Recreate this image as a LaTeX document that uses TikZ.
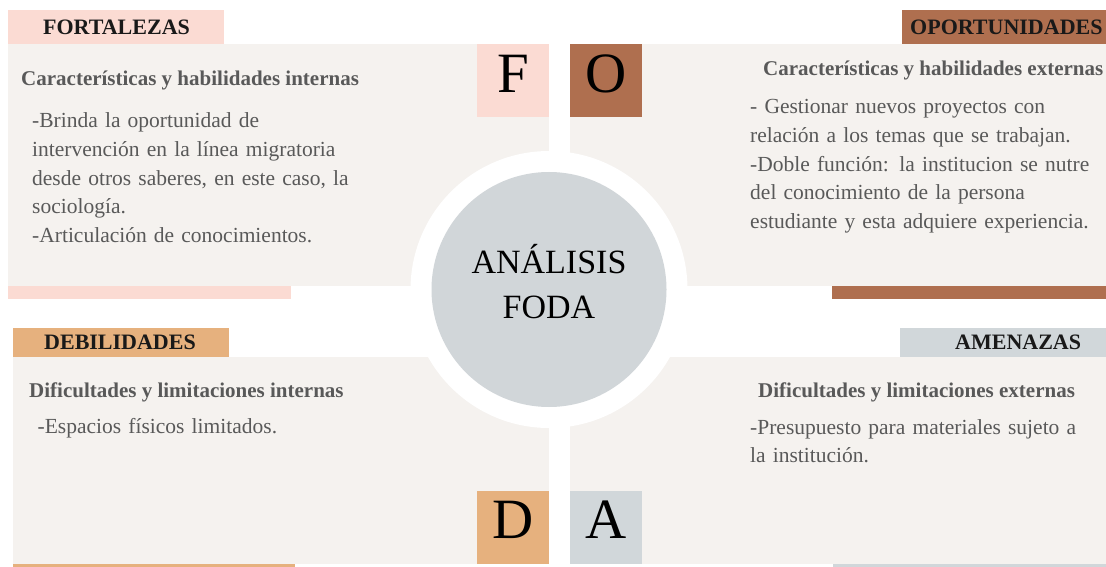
\documentclass[tikz,border=0pt]{standalone}
\usepackage{fontspec}
\setmainfont{Liberation Serif}
\usepackage{tikz}

\definecolor{fortpink}{HTML}{FBDBD3}
\definecolor{oporbrown}{HTML}{AF6F4F}
\definecolor{debiorange}{HTML}{E6B17E}
\definecolor{amengrey}{HTML}{D1D7DA}
\definecolor{panelbg}{HTML}{F5F2EF}
\definecolor{coregrey}{HTML}{D1D6D9}
\definecolor{bodygrey}{HTML}{595959}

\tikzset{
    tabtext/.style={font=\fontsize{22}{26}\selectfont\bfseries, text=black!90, inner sep=0},
    headtext/.style={font=\fontsize{21}{26}\selectfont\bfseries, text=bodygrey, inner sep=0, anchor=base west},
    bodytext/.style={font=\fontsize{21.5}{28.6}\selectfont, text=bodygrey, inner sep=0, anchor=base west, align=left, text width=#1},
    bodytext/.default=360pt,
    bigletter/.style={font=\fontsize{57}{60}\selectfont, text=black, inner sep=0, anchor=base}
}

\begin{document}
\begin{tikzpicture}[x=1pt, y=-1pt]
    \useasboundingbox (0,0) rectangle (1106,567);
    \begin{scope}
    \clip (0,0) rectangle (1106,567);

    % panels
    \foreach \xa/\ya/\xb/\yb in {
        8/44/549/286,
        570/44/1106/286,
        12.5/357/549/564,
        570/357/1106/564}
    {
        \fill[panelbg] (\xa,\ya) rectangle (\xb,\yb);
    }

    % title tabs
    \foreach \co/\xa/\ya/\xb/\yb in {
        fortpink/8/10/224/44,
        oporbrown/902/10/1120/44,
        debiorange/12.5/328/229/357,
        amengrey/900/328/1120/357}
    {
        \fill[\co] (\xa,\ya) rectangle (\xb,\yb);
    }

    % letter squares
    \foreach \co/\xa/\ya in {
        fortpink/477/44,
        oporbrown/570/44,
        debiorange/477/491,
        amengrey/570/491}
    {
        \fill[\co] (\xa,\ya) rectangle (\xa+72,\ya+73);
    }

    % bottom bars
    \foreach \co/\xa/\ya/\xb/\yb in {
        fortpink/8/286/291/299,
        oporbrown/832/286/1106/299,
        debiorange/12.5/564/295/570,
        amengrey/833/564/1106/570}
    {
        \fill[\co] (\xa,\ya) rectangle (\xb,\yb);
    }

    % centre
    \coordinate (core) at (549,289.5);
    \fill[white] (core) circle (138.5pt);
    \fill[coregrey] (core) circle (117.5pt);

    % tab labels
    \node[tabtext, anchor=base] (fortalezas) at (116.5,35) {FORTALEZAS};
    \node[tabtext, anchor=base west] (oportunidades) at (910,35) {OPORTUNIDADES};
    \node[tabtext, anchor=base] (debilidades) at (120,349) {DEBILIDADES};
    \node[tabtext, anchor=base west] (amenazas) at (955,349) {AMENAZAS};
    \end{scope}

    % letters
    \node[bigletter] (letf) at (513,93) {F};
    \node[bigletter] (leto) at (606,93) {O};
    \node[bigletter] (letd) at (513,538) {D};
    \node[bigletter] (leta) at (606,538) {A};

    \node[font=\fontsize{34}{45}\selectfont, text=black, inner sep=0, anchor=base,
        align=center, text width=220pt] (title) at (549,273) {ANÁLISIS\\FODA};

    % headings
    \node[headtext] (headf) at (21,86) {Características y habilidades internas};
    \node[headtext] (heado) at (763,76) {Características y habilidades externas};
    \node[headtext] (headd) at (29,397) {Dificultades y limitaciones internas};
    \node[headtext] (heada) at (758,397) {Dificultades y limitaciones externas};

    % body texts
    \node[bodytext] (textf) at (32,128) {-Brinda la oportunidad de\\
        intervención en la línea migratoria\\
        desde otros saberes, en este caso, la\\
        sociología.\\
        -Articulación de conocimientos.};
    \node[bodytext=350pt] (texto) at (750,114) {- Gestionar nuevos proyectos con\\
        relación a los temas que se trabajan.\\
        -Doble función: la institucion se nutre\\
        del conocimiento de la persona\\
        estudiante y esta adquiere experiencia.};
    \node[bodytext] (textd) at (37.5,433) {-Espacios físicos limitados.};
    \node[bodytext=350pt] (texta) at (750,434) {-Presupuesto para materiales sujeto a\\
        la institución.};
\end{tikzpicture}
\end{document}
